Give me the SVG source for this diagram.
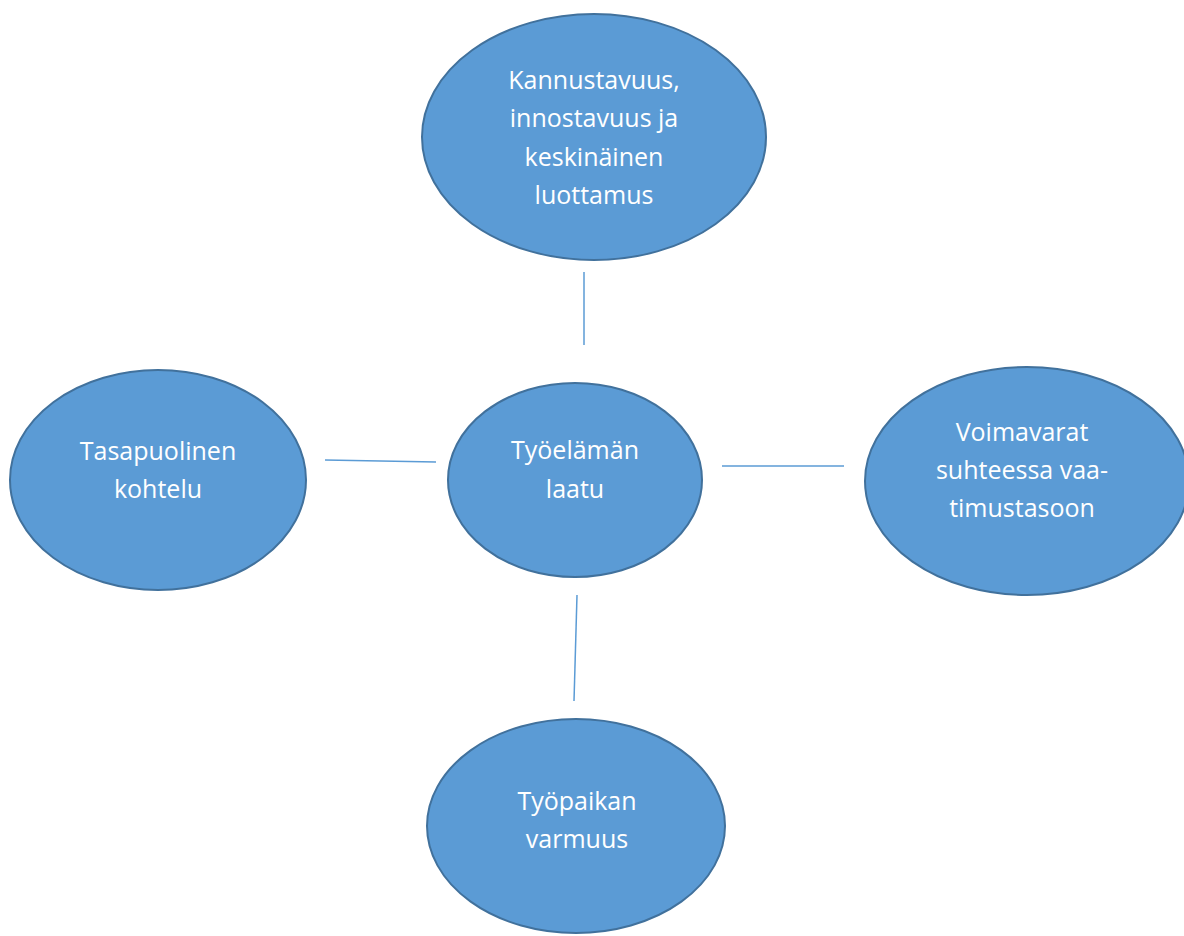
<svg xmlns="http://www.w3.org/2000/svg" width="1184" height="936" viewBox="0 0 1184 936">
<style>
.node ellipse{fill:#5B9BD5;stroke:#41719C;stroke-width:2}
.node text{fill:#FFFFFF;font-family:"Open Sans","Liberation Sans",sans-serif;font-size:25px;text-anchor:middle}
.conn line{stroke:#5B9BD5;stroke-width:1.5}
</style>
<rect width="1184" height="936" fill="#FFFFFF"/>
<g id="connectors" class="conn">
<line x1="584" y1="272" x2="584" y2="345"/>
<line x1="325" y1="460" x2="436" y2="462"/>
<line x1="722" y1="466" x2="844" y2="466"/>
<line x1="577" y1="595" x2="574" y2="701"/>
</g>
<g id="node-top" class="node">
<ellipse cx="594" cy="137" rx="172" ry="123"/>
<text x="594" y="89">Kannustavuus,</text>
<text x="594" y="127">innostavuus ja</text>
<text x="594" y="166">keskinäinen</text>
<text x="594" y="204">luottamus</text>
</g>
<g id="node-left" class="node">
<ellipse cx="158" cy="480" rx="148" ry="110"/>
<text x="158" y="460">Tasapuolinen</text>
<text x="158" y="498">kohtelu</text>
</g>
<g id="node-center" class="node">
<ellipse cx="575" cy="480" rx="127" ry="97"/>
<text x="575" y="459">Työelämän</text>
<text x="575" y="498">laatu</text>
</g>
<g id="node-right" class="node">
<ellipse cx="1027" cy="481" rx="162" ry="114"/>
<text x="1022" y="441">Voimavarat</text>
<text x="1022" y="479">suhteessa vaa-</text>
<text x="1022" y="517">timustasoon</text>
</g>
<g id="node-bottom" class="node">
<ellipse cx="576" cy="826" rx="149" ry="107"/>
<text x="577" y="810">Työpaikan</text>
<text x="577" y="848">varmuus</text>
</g>
</svg>
